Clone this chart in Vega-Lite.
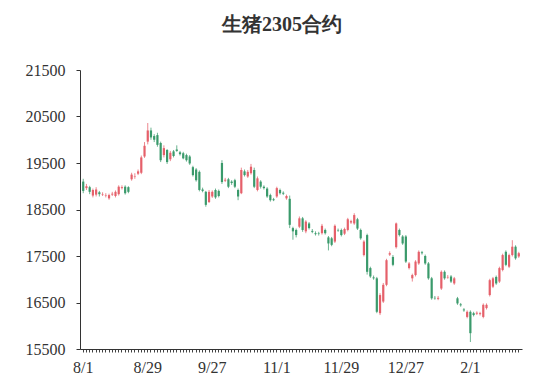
{
  "$schema": "https://vega.github.io/schema/vega-lite/v6.json",
  "width": 442,
  "height": 279,
  "autosize": "none",
  "padding": {"left": 80, "top": 70, "right": 28, "bottom": 39},
  "background": "white",
  "title": {"text": "生猪2305合约", "font": "'Liberation Serif', 'Times New Roman', serif", "fontSize": 20, "fontWeight": "bold", "color": "#333333", "anchor": "middle", "offset": 27, "dx": -19},
  "config": {"view": {"stroke": null}},
  "data": {"values": [
    {"d":"8/1","o":19100,"c":18900,"h":19160,"l":18850},
    {"d":"8/2","o":18960,"c":19000,"h":19050,"l":18920},
    {"d":"8/3","o":18980,"c":18880,"h":19010,"l":18830},
    {"d":"8/4","o":18800,"c":18920,"h":18950,"l":18760},
    {"d":"8/5","o":18820,"c":18930,"h":18980,"l":18780},
    {"d":"8/8","o":18870,"c":18830,"h":18900,"l":18780},
    {"d":"8/9","o":18820,"c":18830,"h":18870,"l":18790},
    {"d":"8/10","o":18800,"c":18810,"h":18850,"l":18760},
    {"d":"8/11","o":18740,"c":18810,"h":18840,"l":18710},
    {"d":"8/12","o":18820,"c":18840,"h":18880,"l":18790},
    {"d":"8/15","o":18790,"c":18880,"h":18910,"l":18760},
    {"d":"8/16","o":18830,"c":18990,"h":19020,"l":18800},
    {"d":"8/17","o":18960,"c":18980,"h":19020,"l":18930},
    {"d":"8/18","o":18990,"c":18850,"h":19020,"l":18820},
    {"d":"8/19","o":18980,"c":18880,"h":19000,"l":18850},
    {"d":"8/22","o":19150,"c":19250,"h":19290,"l":19120},
    {"d":"8/23","o":19200,"c":19210,"h":19280,"l":19160},
    {"d":"8/24","o":19270,"c":19320,"h":19360,"l":19240},
    {"d":"8/25","o":19290,"c":19620,"h":19660,"l":19260},
    {"d":"8/26","o":19640,"c":19870,"h":19950,"l":19610},
    {"d":"8/29","o":19960,"c":20200,"h":20360,"l":19900},
    {"d":"8/30","o":20200,"c":20050,"h":20260,"l":20000},
    {"d":"8/31","o":20080,"c":20000,"h":20120,"l":19950},
    {"d":"9/1","o":20100,"c":19890,"h":20150,"l":19850},
    {"d":"9/2","o":19930,"c":19560,"h":19960,"l":19520},
    {"d":"9/5","o":19670,"c":19820,"h":19880,"l":19620},
    {"d":"9/6","o":19780,"c":19520,"h":19800,"l":19480},
    {"d":"9/7","o":19580,"c":19720,"h":19760,"l":19540},
    {"d":"9/8","o":19750,"c":19650,"h":19780,"l":19620},
    {"d":"9/9","o":19790,"c":19760,"h":19880,"l":19740},
    {"d":"9/13","o":19730,"c":19690,"h":19760,"l":19660},
    {"d":"9/14","o":19710,"c":19600,"h":19740,"l":19580},
    {"d":"9/15","o":19670,"c":19560,"h":19700,"l":19530},
    {"d":"9/16","o":19640,"c":19490,"h":19670,"l":19460},
    {"d":"9/19","o":19410,"c":19240,"h":19440,"l":19210},
    {"d":"9/20","o":19360,"c":19130,"h":19390,"l":19100},
    {"d":"9/21","o":19310,"c":18920,"h":19340,"l":18890},
    {"d":"9/22","o":18930,"c":18900,"h":18970,"l":18870},
    {"d":"9/23","o":18880,"c":18600,"h":18900,"l":18560},
    {"d":"9/26","o":18660,"c":18880,"h":18920,"l":18640},
    {"d":"9/27","o":18780,"c":18880,"h":18910,"l":18750},
    {"d":"9/28","o":18920,"c":18760,"h":18950,"l":18730},
    {"d":"9/29","o":18900,"c":18790,"h":18930,"l":18760},
    {"d":"9/30","o":19500,"c":19090,"h":19560,"l":19050},
    {"d":"10/10","o":19120,"c":19140,"h":19180,"l":19090},
    {"d":"10/11","o":19150,"c":18990,"h":19180,"l":18960},
    {"d":"10/12","o":19100,"c":19070,"h":19130,"l":19030},
    {"d":"10/13","o":19130,"c":18990,"h":19160,"l":18960},
    {"d":"10/14","o":18920,"c":18780,"h":18950,"l":18700},
    {"d":"10/17","o":18850,"c":19350,"h":19400,"l":18830},
    {"d":"10/18","o":19320,"c":19240,"h":19360,"l":19210},
    {"d":"10/19","o":19210,"c":19310,"h":19350,"l":19180},
    {"d":"10/20","o":19280,"c":19420,"h":19480,"l":19250},
    {"d":"10/21","o":19350,"c":18990,"h":19400,"l":18960},
    {"d":"10/24","o":18920,"c":19170,"h":19210,"l":18890},
    {"d":"10/25","o":19100,"c":18990,"h":19130,"l":18950},
    {"d":"10/26","o":18990,"c":18960,"h":19020,"l":18930},
    {"d":"10/27","o":18950,"c":18780,"h":18980,"l":18750},
    {"d":"10/28","o":18810,"c":18700,"h":18840,"l":18670},
    {"d":"10/31","o":18720,"c":18700,"h":18750,"l":18680},
    {"d":"11/1","o":18780,"c":18960,"h":18990,"l":18750},
    {"d":"11/2","o":18920,"c":18850,"h":18950,"l":18820},
    {"d":"11/3","o":18860,"c":18840,"h":18890,"l":18810},
    {"d":"11/4","o":18740,"c":18790,"h":18820,"l":18710},
    {"d":"11/7","o":18730,"c":18170,"h":18800,"l":18100},
    {"d":"11/8","o":18100,"c":18030,"h":18130,"l":17850},
    {"d":"11/9","o":18060,"c":17950,"h":18090,"l":17900},
    {"d":"11/10","o":18130,"c":18310,"h":18350,"l":18100},
    {"d":"11/11","o":18310,"c":18060,"h":18340,"l":18020},
    {"d":"11/14","o":18030,"c":18240,"h":18270,"l":17990},
    {"d":"11/15","o":18200,"c":18100,"h":18230,"l":18070},
    {"d":"11/16","o":18040,"c":18020,"h":18080,"l":17990},
    {"d":"11/17","o":17990,"c":17970,"h":18030,"l":17940},
    {"d":"11/18","o":17990,"c":17980,"h":18020,"l":17940},
    {"d":"11/21","o":17990,"c":18150,"h":18190,"l":17960},
    {"d":"11/22","o":18060,"c":17990,"h":18090,"l":17960},
    {"d":"11/23","o":17900,"c":17770,"h":17930,"l":17620},
    {"d":"11/24","o":17880,"c":17740,"h":17910,"l":17710},
    {"d":"11/25","o":17810,"c":18150,"h":18180,"l":17780},
    {"d":"11/28","o":18060,"c":18050,"h":18090,"l":18020},
    {"d":"11/29","o":18060,"c":17950,"h":18090,"l":17920},
    {"d":"11/30","o":17980,"c":18080,"h":18110,"l":17950},
    {"d":"12/1","o":18060,"c":18290,"h":18320,"l":18030},
    {"d":"12/2","o":18220,"c":18250,"h":18280,"l":18190},
    {"d":"12/5","o":18200,"c":18380,"h":18420,"l":18170},
    {"d":"12/6","o":18290,"c":18090,"h":18320,"l":18060},
    {"d":"12/7","o":18060,"c":17880,"h":18090,"l":17850},
    {"d":"12/8","o":17520,"c":17810,"h":17840,"l":17490},
    {"d":"12/9","o":17950,"c":17160,"h":17980,"l":17100},
    {"d":"12/12","o":17240,"c":17060,"h":17270,"l":17030},
    {"d":"12/13","o":17040,"c":17020,"h":17080,"l":16990},
    {"d":"12/14","o":17020,"c":16300,"h":17050,"l":16270},
    {"d":"12/15","o":16270,"c":16660,"h":16700,"l":16230},
    {"d":"12/16","o":16520,"c":16880,"h":16920,"l":16490},
    {"d":"12/19","o":16880,"c":17410,"h":17440,"l":16850},
    {"d":"12/20","o":17530,"c":17560,"h":17600,"l":17500},
    {"d":"12/21","o":17480,"c":17310,"h":17520,"l":17280},
    {"d":"12/22","o":17690,"c":18200,"h":18220,"l":17660},
    {"d":"12/23","o":18060,"c":17950,"h":18090,"l":17920},
    {"d":"12/26","o":17920,"c":17770,"h":17950,"l":17740},
    {"d":"12/27","o":17920,"c":17380,"h":17950,"l":17350},
    {"d":"12/28","o":17240,"c":17340,"h":17370,"l":17210},
    {"d":"12/29","o":17020,"c":17090,"h":17120,"l":16950},
    {"d":"12/30","o":17090,"c":17380,"h":17410,"l":17060},
    {"d":"1/3","o":17340,"c":17590,"h":17620,"l":17310},
    {"d":"1/4","o":17580,"c":17560,"h":17610,"l":17530},
    {"d":"1/5","o":17500,"c":17340,"h":17530,"l":17310},
    {"d":"1/6","o":17340,"c":17020,"h":17370,"l":16990},
    {"d":"1/9","o":17020,"c":16590,"h":17050,"l":16560},
    {"d":"1/10","o":16600,"c":16590,"h":16640,"l":16560},
    {"d":"1/11","o":16580,"c":16600,"h":16640,"l":16550},
    {"d":"1/12","o":16800,"c":17160,"h":17190,"l":16770},
    {"d":"1/13","o":17160,"c":17020,"h":17190,"l":16990},
    {"d":"1/16","o":17040,"c":17050,"h":17090,"l":17010},
    {"d":"1/17","o":17060,"c":16950,"h":17090,"l":16920},
    {"d":"1/18","o":16910,"c":17020,"h":17050,"l":16880},
    {"d":"1/19","o":16590,"c":16480,"h":16620,"l":16450},
    {"d":"1/20","o":16460,"c":16440,"h":16490,"l":16410},
    {"d":"1/30","o":16350,"c":16330,"h":16380,"l":16300},
    {"d":"1/31","o":16190,"c":16300,"h":16330,"l":16160},
    {"d":"2/1","o":16300,"c":15840,"h":16330,"l":15650},
    {"d":"2/2","o":16270,"c":16230,"h":16300,"l":16200},
    {"d":"2/3","o":16260,"c":16280,"h":16310,"l":16230},
    {"d":"2/6","o":16250,"c":16270,"h":16300,"l":16220},
    {"d":"2/7","o":16190,"c":16450,"h":16480,"l":16160},
    {"d":"2/8","o":16380,"c":16450,"h":16480,"l":16350},
    {"d":"2/9","o":16660,"c":16980,"h":17010,"l":16630},
    {"d":"2/10","o":16840,"c":17020,"h":17050,"l":16810},
    {"d":"2/13","o":17050,"c":16910,"h":17080,"l":16880},
    {"d":"2/14","o":16950,"c":17240,"h":17270,"l":16920},
    {"d":"2/15","o":17200,"c":17520,"h":17550,"l":17170},
    {"d":"2/16","o":17590,"c":17310,"h":17620,"l":17280},
    {"d":"2/17","o":17270,"c":17520,"h":17550,"l":17240},
    {"d":"2/20","o":17520,"c":17700,"h":17840,"l":17490},
    {"d":"2/21","o":17700,"c":17450,"h":17730,"l":17420},
    {"d":"2/22","o":17490,"c":17560,"h":17590,"l":17460}
  ]},
  "encoding": {
    "x": {
      "field": "d", "type": "ordinal", "sort": null, "title": null,
      "scale": {"paddingInner": 0, "paddingOuter": 0.5},
      "axis": {
        "labelAngle": 0, "labelOverlap": false, "tickSize": 3, "labelPadding": 7,
        "labelFont": "'Liberation Serif', 'Times New Roman', serif", "labelFontSize": 16, "labelColor": "#333333",
        "domainColor": "#333333", "tickColor": "#444444", "grid": false,
        "labelExpr": "indexof(['8/1','8/29','9/27','11/1','11/29','12/27','2/1'], datum.label) >= 0 ? datum.label : ''"
      }
    },
    "color": {
      "condition": {"test": "datum.c >= datum.o", "value": "#E5606A"},
      "value": "#3A9A6B"
    }
  },
  "layer": [
    {
      "mark": {"type": "rule", "strokeWidth": 1, "opacity": 0.75},
      "encoding": {
        "y": {"field": "l", "type": "quantitative", "title": null,
          "scale": {"domain": [15500, 21500], "nice": false, "zero": false},
          "axis": {"values": [15500, 16500, 17500, 18500, 19500, 20500, 21500], "format": "d", "grid": false,
            "tickSize": 4, "labelPadding": 11, "labelFont": "'Liberation Serif', 'Times New Roman', serif", "labelFontSize": 16,
            "labelColor": "#333333", "domainColor": "#333333", "tickColor": "#333333"}},
        "y2": {"field": "h"}
      }
    },
    {
      "mark": {"type": "bar", "size": 2.2},
      "encoding": {
        "y": {"field": "o", "type": "quantitative"},
        "y2": {"field": "c"}
      }
    }
  ]
}
